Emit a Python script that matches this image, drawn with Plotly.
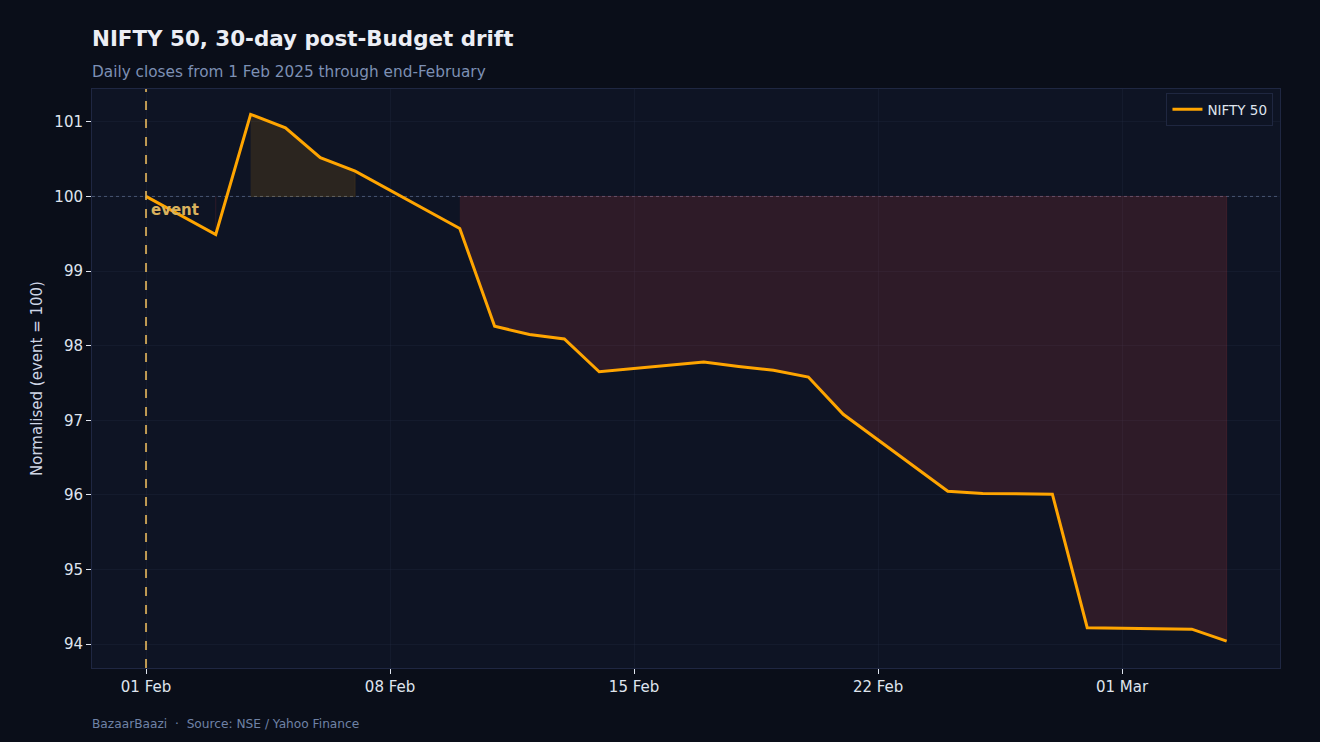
import plotly.graph_objects as go

dates = ["2025-02-01", "2025-02-03", "2025-02-04", "2025-02-05", "2025-02-06", "2025-02-07",
         "2025-02-10", "2025-02-11", "2025-02-12", "2025-02-13", "2025-02-14",
         "2025-02-17", "2025-02-18", "2025-02-19", "2025-02-20", "2025-02-21",
         "2025-02-24", "2025-02-25", "2025-02-27", "2025-02-28",
         "2025-03-03", "2025-03-04"]
values = [100.00, 99.49, 101.10, 100.92, 100.52, 100.34,
          99.57, 98.26, 98.15, 98.09, 97.65,
          97.78, 97.72, 97.67, 97.58, 97.08,
          96.05, 96.02, 96.01, 94.22,
          94.20, 94.04]
base = 100.0
event_date = "2025-02-01"
series_name = "NIFTY 50"

PAPER = "#0a0e19"
PLOT = "#0e1424"
ORANGE = "#ffa500"

fig = go.Figure()

# Fill runs above / below baseline (no interpolation)
def runs(cond):
    out, cur = [], []
    for i, v in enumerate(values):
        if cond(v):
            cur.append(i)
        else:
            if cur:
                out.append(cur)
            cur = []
    if cur:
        out.append(cur)
    return out

for idx_run, color, edge in [(runs(lambda v: v > base), "rgba(255,165,0,0.12)", "rgba(255,165,0,0.10)"),
                             (runs(lambda v: v < base), "rgba(239,68,68,0.14)", "rgba(239,68,68,0.14)")]:
    for r in idx_run:
        xs = [dates[i] for i in r] + [dates[i] for i in reversed(r)]
        ys = [values[i] for i in r] + [base] * len(r)
        fig.add_trace(go.Scatter(x=xs, y=ys, fill="toself", fillcolor=color, mode="lines",
                                 line=dict(width=1, color=edge), hoverinfo="skip", showlegend=False))

fig.add_trace(go.Scatter(x=dates, y=values, mode="lines", name=series_name,
                         line=dict(color=ORANGE, width=3)))

fig.add_shape(type="line", xref="paper", yref="y", x0=0, x1=1, y0=base, y1=base,
              line=dict(color="rgba(110,130,165,0.7)", width=1, dash="dot"), layer="below")
fig.add_shape(type="line", xref="x", yref="paper", x0=event_date, x1=event_date, y0=0, y1=1,
              line=dict(color="rgba(222,178,90,0.85)", width=2, dash="dash"))
fig.add_annotation(x=event_date, y=base, xref="x", yref="y", text="<b>event</b>", showarrow=False,
                   xanchor="left", yanchor="top", xshift=3, yshift=-3,
                   font=dict(color="#d9b25e", size=15, family="DejaVu Sans"))

fig.update_layout(
    width=1320, height=742,
    paper_bgcolor=PAPER, plot_bgcolor=PLOT,
    margin=dict(l=92, r=40, t=89, b=74),
    font=dict(family="DejaVu Sans", color="#dfe4ee", size=15),
    title=dict(text="<b>NIFTY 50, 30-day post-Budget drift</b>", x=92/1320, xanchor="left",
               y=1-39/742, yanchor="middle", font=dict(size=21.4, color="#eceef5")),
    showlegend=True,
    legend=dict(x=0.9945, y=0.993, xanchor="right", yanchor="top", bgcolor="#0e1424",
                bordercolor="#1f2740", borderwidth=1, font=dict(size=13.5, color="#dfe4ee"),
                tracegroupgap=0),
    xaxis=dict(type="date", range=["2025-01-30 10:48", "2025-03-05 12:43"],
               tick0="2025-02-01", dtick=7 * 86400000, tickformat="%d %b",
               showgrid=True, gridcolor="rgba(40,48,70,0.25)", zeroline=False,
               ticks="outside", ticklen=5, tickcolor="#dfe4ee",
               showline=True, linecolor="#1f2742", mirror=True,
               tickfont=dict(size=15, color="#dfe4ee")),
    yaxis=dict(range=[93.68, 101.44], dtick=1, showgrid=True, gridcolor="rgba(40,48,70,0.25)",
               zeroline=False, ticks="outside", ticklen=5, tickcolor="#dfe4ee",
               showline=True, linecolor="#1f2742", mirror=True,
               title=dict(text="Normalised (event = 100)", font=dict(size=15, color="#cfd6e6"), standoff=8),
               tickfont=dict(size=15, color="#dfe4ee")),
)

fig.add_annotation(xref="paper", yref="paper", x=0, y=1 + (89 - 72) / 579, xanchor="left", yanchor="middle",
                   xshift=-2, text="Daily closes from 1 Feb 2025 through end-February", showarrow=False,
                   font=dict(size=15.3, color="#7d90b4"))
fig.add_annotation(xref="paper", yref="paper", x=0, y=-(724 - 668) / 579, xanchor="left", yanchor="middle",
                   xshift=-2, text="BazaarBaazi  ·  Source: NSE / Yahoo Finance", showarrow=False,
                   font=dict(size=12.2, color="#6f82a6"))

fig.write_html("out.html")
